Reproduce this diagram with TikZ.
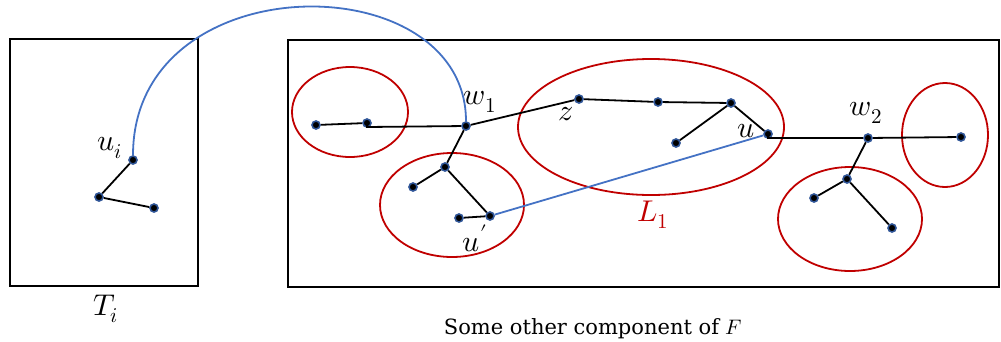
\documentclass[tikz,border=0pt]{standalone}
\usepackage{fontspec}
\setmainfont{DejaVu Serif}
\usepackage{unicode-math}
\setmathfont{Latin Modern Math}
\definecolor{myred}{HTML}{C00000}
\definecolor{myblue}{HTML}{4472C4}
\definecolor{ringblue}{HTML}{2F5597}
\begin{document}
\begin{tikzpicture}[x=1pt,y=-1pt,
  vtx/.style={circle,fill=black,draw=ringblue,line width=1.6pt,inner sep=0pt,minimum size=8pt},
  frame/.style={draw=black,line width=1.8pt},
  edge/.style={draw=black,line width=1.8pt},
  grp/.style={draw=myred,line width=1.8pt},
  link/.style={draw=myblue,line width=1.8pt},
  lab/.style={font=\fontsize{30}{30}\selectfont,inner sep=0pt}]
\useasboundingbox (0,0) rectangle (1001,341);
% frames
\draw[frame] (10,39) rectangle (198,286);
\draw[frame] (288,40) rectangle (999,287);
\node[lab] (Ti) at (106,309) {$T_i$};
\node[font=\fontsize{21}{21}\selectfont,inner sep=0pt,anchor=base] (cap) at (593,334) {Some other component of $F$};
% red groups
\draw[grp] (350,112) ellipse [x radius=58,y radius=45];
\draw[grp] (452,205) ellipse [x radius=72,y radius=52];
\draw[grp] (651,127) ellipse [x radius=133,y radius=68];
\draw[grp] (945,135) ellipse [x radius=43,y radius=52];
\draw[grp] (850,219) ellipse [x radius=72,y radius=52];
% left tree
\node[vtx] (ui) at (133,160) {};
\node[vtx] (t1) at (99,197) {};
\node[vtx] (t2) at (154,208) {};
\draw[edge] (ui) -- (t1) -- (t2);
\node[lab] at (110,148) {$u_i$};
% main tree
\node[vtx] (a1) at (316,125) {};
\node[vtx] (a2) at (367,123) {};
\node[vtx] (w1) at (466,126) {};
\node[vtx] (b1) at (445,167) {};
\node[vtx] (b2) at (413,187) {};
\node[vtx] (up) at (490,216) {};
\node[vtx] (b3) at (459,218) {};
\node[vtx] (z) at (579,99) {};
\node[vtx] (m1) at (658,102) {};
\node[vtx] (m2) at (731,103) {};
\node[vtx] (m3) at (676,143) {};
\node[vtx] (u) at (768,134) {};
\node[vtx] (w2) at (868,138) {};
\node[vtx] (r1) at (961,137) {};
\node[vtx] (c1) at (847,179) {};
\node[vtx] (c2) at (814,198) {};
\node[vtx] (c3) at (892,228) {};
\draw[edge] (a1) -- (a2);
\draw[edge] (a2.center) -- ++(0,4) -- (w1);
\draw[edge] (w1) -- (b1) -- (b2);
\draw[edge] (b1) -- (up) -- (b3);
\draw[edge] (w1) -- (z) -- (m1) -- (m2) -- (m3);
\draw[edge] (m2) -- (u);
\draw[edge] (u.center) -- ++(0,4) -- (w2) -- (r1);
\draw[edge] (w2) -- (c1) -- (c2);
\draw[edge] (c1) -- (c3);
% blue links
\draw[link] (ui) .. controls (133,-37) and (466,-37) .. (w1);
\draw[link] (up) -- (u);
% labels
\node[lab] at (480,102) {$w_1$};
\node[lab] at (566,114) {$z$};
\node[lab] at (746,131) {$u$};
\node[lab] at (475,238) {$u'$};
\node[lab] at (866,113) {$w_2$};
\node[lab,text=myred] at (653,215) {$L_1$};
\end{tikzpicture}
\end{document}
